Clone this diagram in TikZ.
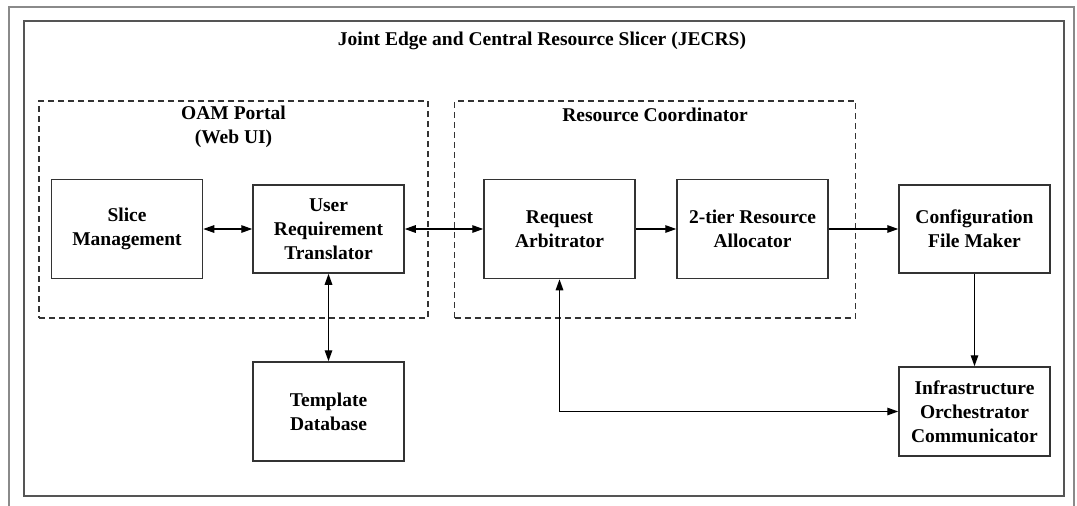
\documentclass[tikz,border=0pt]{standalone}
\usepackage{fontspec}
\setmainfont{Liberation Serif}
\usetikzlibrary{arrows.meta}
\definecolor{boxline}{HTML}{333333}
\definecolor{frameline}{HTML}{555555}
\definecolor{outerline}{HTML}{8A8A8A}
\begin{document}
\begin{tikzpicture}[x=1pt,y=-1pt,
  every node/.style={font=\bfseries\fontsize{19.5}{24}\selectfont, text=black, align=center, inner sep=0pt},
  blk/.style={draw=boxline, line width=1.5pt, fill=white},
  grp/.style={draw=boxline, line width=1.3pt, dash pattern=on 6pt off 4pt},
  conn/.style={draw=black, line width=1.4pt},
  tip/.style={-{Triangle[length=11pt,width=7.5pt]}},
  bitip/.style={{Triangle[length=11pt,width=7.5pt]}-{Triangle[length=11pt,width=7.5pt]}}
]
\useasboundingbox (0,0) rectangle (1077,506);
% outer gray frame (extends past the bottom edge)
\draw[outerline, line width=1.5pt] (9,520) -- (9,7) -- (1074,7) -- (1074,520);
% inner frame
\node[draw=frameline, line width=2pt, minimum width=1040pt, minimum height=475pt] (frame) at (544,258.5) {};
\node (title) at (542,41) {Joint Edge and Central Resource Slicer (JECRS)};
% groups
\node[grp, minimum width=389pt, minimum height=217pt] (oam) at (233.5,209.5) {};
\node (oamlbl) at (233.5,127) {OAM Portal\\(Web UI)};
\node[grp, minimum width=401pt, minimum height=217pt] (rc) at (655,209.5) {};
\node (rclbl) at (655,115) {Resource Coordinator};
% blocks
\node[blk, minimum width=151pt, minimum height=99pt] (slice) at (127,229) {Slice\\Management};
\node[blk, minimum width=151pt, minimum height=88pt] (urt) at (328.5,229) {User\\Requirement\\Translator};
\node[blk, minimum width=151pt, minimum height=99pt] (ra) at (559.5,229) {Request\\Arbitrator};
\node[blk, minimum width=151pt, minimum height=99pt] (alloc) at (752.5,229) {2-tier Resource\\Allocator};
\node[blk, minimum width=151pt, minimum height=88pt] (cfm) at (974.5,229) {Configuration\\File Maker};
\node[blk, minimum width=151pt, minimum height=99pt] (tdb) at (328.5,411.5) {Template\\Database};
\node[blk, minimum width=151pt, minimum height=89pt] (ioc) at (974.5,411.5) {Infrastructure\\Orchestrator\\Communicator};
% connectors
\draw[conn, bitip] (slice.east) -- (urt.west);
\draw[conn, bitip] (urt.east) -- (ra.west);
\draw[conn, tip] (ra.east) -- (alloc.west);
\draw[conn, tip] (alloc.east) -- (cfm.west);
\draw[conn, bitip] (urt.south) -- (tdb.north);
\draw[conn, tip] (cfm.south) -- (ioc.north);
\draw[conn, bitip] (ra.south) |- (ioc.west);
\end{tikzpicture}
\end{document}
